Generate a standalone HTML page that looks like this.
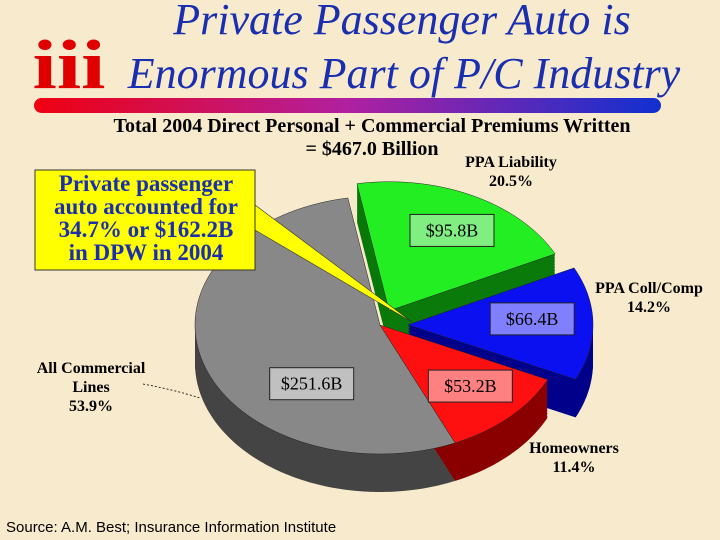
<!DOCTYPE html>
<html><head><meta charset="utf-8"><style>
body{margin:0;width:720px;height:540px;overflow:hidden;background:#f8ebcd;font-family:"Liberation Serif",serif;}
</style></head><body>
<svg width="720" height="540" viewBox="0 0 720 540" xmlns="http://www.w3.org/2000/svg" style="display:block">
<defs><linearGradient id="bar" x1="0" x2="1"><stop offset="0" stop-color="#f00010"/><stop offset="0.5" stop-color="#b020a0"/><stop offset="1" stop-color="#1030d0"/></linearGradient></defs>
<rect width="720" height="540" fill="#f8ebcd"/>
<text x="0" y="0" font-size="70" font-weight="bold" fill="#e00000" text-anchor="middle" font-family="Liberation Serif" transform="translate(69,88) scale(1.25,1)">iii</text>
<text x="402" y="34" font-size="44" font-style="italic" fill="#1a2fb0" text-anchor="middle">Private Passenger Auto is</text>
<text x="404" y="88" font-size="44" font-style="italic" fill="#1a2fb0" text-anchor="middle">Enormous Part of P/C Industry</text>
<rect x="34" y="98" width="627" height="15" rx="7.5" fill="url(#bar)"/>
<text x="372" y="132" font-size="20" font-weight="bold" fill="#000" text-anchor="middle">Total 2004 Direct Personal + Commercial Premiums Written</text>
<text x="372" y="155" font-size="20" font-weight="bold" fill="#000" text-anchor="middle">= $467.0 Billion</text>
<g id="pie"></g>
<polygon points="255,205 255,230 412,322" fill="#ffff00" stroke="#333" stroke-width="0.6"/>
<rect x="35" y="170" width="220" height="100" fill="#ffff00" stroke="#333" stroke-width="1"/>
<g font-size="23" font-weight="bold" fill="#1a2fb0" text-anchor="middle">
<text x="146" y="191">Private passenger</text>
<text x="146" y="214">auto accounted for</text>
<text x="146" y="237">34.7% or $162.2B</text>
<text x="146" y="260">in DPW in 2004</text></g>
<g font-size="16" font-weight="bold" fill="#000" text-anchor="middle">
<text x="511" y="167">PPA Liability</text>
<text x="511" y="186">20.5%</text>
<text x="649" y="293">PPA Coll/Comp</text>
<text x="649" y="312">14.2%</text>
<text x="574" y="453">Homeowners</text>
<text x="574" y="472">11.4%</text>
<text x="91" y="373">All Commercial</text>
<text x="91" y="392">Lines</text>
<text x="91" y="411">53.9%</text>
</g>
<path d="M143,384 Q175,390 200,398" fill="none" stroke="#000" stroke-width="0.8" stroke-dasharray="2,2"/>
<g id="vals"></g>
<text x="6" y="532" font-size="15" font-family="Liberation Sans" fill="#000">Source:  A.M. Best; Insurance Information Institute</text>
</svg>
<script>
const categories=["PPA Liability","PPA Coll/Comp","Homeowners","All Commercial Lines"];
const values=[95.8,66.4,53.2,251.6];
const valueLabels=["$95.8B","$66.4B","$53.2B","$251.6B"];
const colors=["#22ee22","#0a10f0","#ff1010","#888888"];
const sideColors=["#0a7a0a","#00008a","#8a0000","#444444"];
const labelFill=["#80ee80","#8080ff","#ff8080","#c0c0c0"];
const explode=[20,28,0,0];
const cx=380,cy=325,rx=185,ry=129,depth=38,start=-100;
const NS="http://www.w3.org/2000/svg";
const pie=document.getElementById('pie'),vals=document.getElementById('vals');
const total=values.reduce((a,b)=>a+b,0);
let a=start;const sl=[];
values.forEach((v,i)=>{const s=a,e=a+v/total*360;a=e;const m=(s+e)/2*Math.PI/180;
sl.push({s,e,dx:explode[i]*Math.cos(m),dy:explode[i]*Math.sin(m)*0.8,i});});
function path(o,yoff){let d=`M${cx+o.dx},${cy+o.dy+yoff}`;for(let t=o.s;t<=o.e+0.001;t+=1){const r=Math.min(t,o.e)*Math.PI/180;d+=` L${cx+o.dx+rx*Math.cos(r)},${cy+o.dy+yoff+ry*Math.sin(r)}`;}const r=o.e*Math.PI/180;d+=` L${cx+o.dx+rx*Math.cos(r)},${cy+o.dy+yoff+ry*Math.sin(r)} Z`;return d;}
const order=[0,1,3,2];
order.forEach(k=>{const o=sl[k];const g=document.createElementNS(NS,'g');


for(let y=depth;y>0;y-=1.5){const p=document.createElementNS(NS,'path');p.setAttribute('d',path(o,y));p.setAttribute('fill',sideColors[k]);g.appendChild(p);}pie.appendChild(g);});
order.forEach(k=>{const o=sl[k];const p=document.createElementNS(NS,'path');p.setAttribute('d',path(o,0));p.setAttribute('fill',colors[k]);p.setAttribute('stroke','#222');p.setAttribute('stroke-width','0.5');


pie.appendChild(p);});
const lblF=[0.62,0.72,0.62,0.55];
const lblShift=[[11,-9],[-9,-5],[10,4],[29,38]];
sl.forEach((o,k)=>{const m=((o.s+o.e)/2)*Math.PI/180;const f=lblF[k];
const x=cx+o.dx+rx*f*Math.cos(m)+lblShift[k][0],y=cy+o.dy+ry*f*Math.sin(m)+lblShift[k][1];
const g=document.createElementNS(NS,'g');


const r=document.createElementNS(NS,'rect');r.setAttribute('x',x-42);r.setAttribute('y',y-16);r.setAttribute('width',84);r.setAttribute('height',32);r.setAttribute('fill',labelFill[k]);r.setAttribute('stroke','#222');
const t=document.createElementNS(NS,'text');t.setAttribute('x',x);t.setAttribute('y',y+6);t.setAttribute('text-anchor','middle');t.setAttribute('font-size','18');t.textContent=valueLabels[k];
g.appendChild(r);g.appendChild(t);vals.appendChild(g);});
</script>
</body></html>
